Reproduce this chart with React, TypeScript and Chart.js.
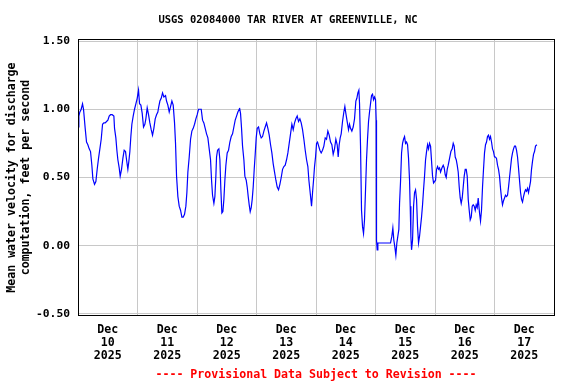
import { useEffect, useRef } from "react";
import { Chart, registerables } from "chart.js";

Chart.register(...registerables);

const TITLE = "USGS 02084000 TAR RIVER AT GREENVILLE, NC";
const Y_TITLE = ["Mean water velocity for discharge", "computation, feet per second"];
const FOOTER = "---- Provisional Data Subject to Revision ----";
const MONTH = "Dec";
const YEAR = "2025";
const DAYS = ["10", "11", "12", "13", "14", "15", "16", "17"];
const Y_TICKS = [-0.5, 0, 0.5, 1.0, 1.5];

// hours since Dec 10 2025 00:00
const hours = [
  0.0, 0.35, 0.75, 1.29, 1.83, 2.23, 2.9, 3.44, 3.98, 4.52, 5.05, 5.59, 6.0, 6.67, 7.21, 7.74, 8.28, 8.82, 9.36, 9.9,
  10.43, 10.97, 11.51, 12.05, 12.58, 13.12, 13.79, 14.47, 14.74, 15.27, 15.68, 16.08, 16.62, 17.02, 17.56, 18.1, 18.63,
  19.17, 19.58, 20.11, 20.52, 20.92, 21.32, 21.73, 22.26, 22.8, 23.34, 23.88, 24.42, 24.82, 25.36, 25.9, 26.43, 26.97,
  27.37, 27.91, 28.45, 28.99, 29.53, 30.06, 30.6, 31.14, 31.68, 32.21,
  32.49, 33.03, 33.56, 34.1, 34.64, 35.31, 35.71, 36.25, 36.79, 37.33, 37.87, 38.4, 38.94, 39.34, 39.75, 40.29, 40.82,
  41.36, 41.9, 42.44, 42.97, 43.51, 43.92, 44.32, 44.86, 45.4, 45.93, 46.47, 47.01, 47.55, 48.08, 48.62, 49.16, 49.7,
  50.24, 50.77, 51.31, 51.85, 52.39, 52.92, 53.46, 53.87, 54.27, 54.81, 55.21, 55.61, 55.88, 56.29, 56.82, 57.23, 57.63,
  58.03, 58.44, 58.84, 59.24, 59.65, 60.18, 60.72, 61.26, 61.8, 62.34, 62.87, 63.41, 63.95, 64.49, 65.03,
  65.16, 65.56, 65.97, 66.37, 66.91, 67.31, 67.85, 68.25, 68.66, 69.06, 69.46, 69.87, 70.27, 70.67, 71.08, 71.48, 71.88,
  72.29, 72.83, 73.36, 73.9, 74.44, 74.98, 75.51, 76.05, 76.59, 77.13, 77.67, 78.2, 78.74, 79.28, 79.82, 80.35, 80.89,
  81.43, 81.97, 82.51, 83.04, 83.58, 84.12, 84.66, 85.19, 85.73, 86.27, 86.81, 87.35, 87.88, 88.42, 88.96, 89.5, 90.03,
  90.57, 91.11, 91.65, 92.19, 92.72, 93.13, 93.53, 93.93, 94.2, 94.61, 95.01, 95.41, 95.82, 96.22, 96.62,
  97.56, 98.09, 98.63, 99.17, 99.71, 100.24, 100.78, 101.32, 101.86, 102.4, 102.93, 103.47, 104.01, 104.55, 104.95,
  105.35, 105.76, 106.16, 106.7, 107.24, 107.64, 108.04, 108.58, 109.12, 109.52, 109.93, 110.46, 111.0, 111.54, 112.08,
  112.48, 112.88, 113.29, 113.56, 113.96, 114.36, 114.77, 115.17, 115.57, 115.98, 116.38, 116.78, 117.19, 117.59,
  117.99, 118.4, 118.8, 119.2, 119.61, 120.01, 120.28, 120.41, 120.68, 120.95, 121.49, 126.06, 126.6, 127.0, 127.4,
  127.81, 128.21, 128.61, 129.02, 129.42,
  129.7, 130.1, 130.51, 130.91, 131.31, 131.72, 132.12, 132.52, 132.93, 133.33, 133.73, 134.0, 134.27, 134.54, 134.94,
  135.35, 135.75, 136.15, 136.56, 136.96, 137.36, 137.77, 138.17, 138.57, 138.98, 139.38, 139.78, 140.19, 140.59, 141.0,
  141.4, 141.8, 142.21, 142.61, 143.01, 143.42, 143.82, 144.22, 144.63, 145.03, 145.43, 145.84, 146.24, 146.78, 147.31,
  147.72, 148.12, 148.52, 148.93, 149.33, 149.87, 150.41, 150.94, 151.35, 151.75, 152.15, 152.56, 152.96, 153.36,
  153.77, 154.17, 154.57, 154.98, 155.38, 155.78, 156.19, 156.59, 156.99, 157.4, 157.8, 158.2, 158.61, 159.01, 159.41,
  159.82, 160.22, 160.62, 161.03, 161.43,
  161.96, 162.36, 162.76, 163.17, 163.57, 163.97, 164.38, 164.78, 165.18, 165.59, 165.99, 166.39, 166.8, 167.2, 167.6,
  168.01, 168.41, 168.81, 169.22, 169.62, 170.02, 170.43, 170.83, 171.23, 171.64, 172.04, 172.44, 172.85, 173.25,
  173.66, 174.06, 174.46, 174.87, 175.27, 175.67, 176.08, 176.48, 176.88, 177.29, 177.69, 178.09, 178.5, 178.9, 179.3,
  179.71, 180.11, 180.51, 180.92, 181.32, 181.72, 182.13, 182.53, 182.93, 183.34, 183.74, 184.14, 184.55, 185.08,
];

// mean water velocity, ft/s
const velocity = [
  0.87, 0.95, 0.98, 1.0, 1.04, 1.0, 0.86, 0.76, 0.74, 0.71, 0.69, 0.59, 0.49, 0.45, 0.47, 0.56, 0.64, 0.71, 0.78, 0.89,
  0.9, 0.9, 0.91, 0.92, 0.95, 0.96, 0.96, 0.95, 0.86, 0.79, 0.7, 0.63, 0.57, 0.51, 0.56, 0.64, 0.7,
  0.69, 0.63, 0.56, 0.62, 0.69, 0.8, 0.89, 0.95, 1.0, 1.04, 1.08, 1.14, 1.04, 1.03, 0.97, 0.87, 0.89,
  0.93, 1.01, 0.96, 0.9, 0.85, 0.81, 0.86, 0.93, 0.96, 0.98,
  1.01, 1.06, 1.08, 1.12, 1.09, 1.1, 1.06, 1.03, 0.98, 1.02, 1.06, 1.03, 0.9, 0.75, 0.51, 0.36, 0.29,
  0.26, 0.21, 0.21, 0.23, 0.29, 0.39, 0.54, 0.65, 0.78, 0.84, 0.86, 0.89, 0.93, 0.96, 1.0, 1.0, 1.0,
  0.92, 0.9, 0.86, 0.82, 0.79, 0.71, 0.63, 0.48, 0.37, 0.31, 0.36, 0.51, 0.65, 0.7, 0.71, 0.63, 0.41,
  0.24, 0.25, 0.34, 0.48, 0.59, 0.68, 0.7, 0.76, 0.8, 0.82, 0.87, 0.92, 0.95, 0.98, 1.0,
  1.01, 0.97, 0.86, 0.73, 0.63, 0.51, 0.48, 0.43, 0.36, 0.3, 0.25, 0.28, 0.34, 0.43, 0.56, 0.67, 0.79,
  0.86, 0.87, 0.82, 0.79, 0.8, 0.84, 0.87, 0.9, 0.86, 0.81, 0.74, 0.68, 0.6, 0.54, 0.48, 0.43, 0.41,
  0.45, 0.5, 0.56, 0.58, 0.59, 0.63, 0.68, 0.75, 0.82, 0.89, 0.85, 0.9, 0.93, 0.95, 0.91, 0.93, 0.9,
  0.85, 0.78, 0.7, 0.63, 0.58, 0.48, 0.41, 0.34, 0.29, 0.39, 0.48, 0.58, 0.65, 0.75, 0.76,
  0.7, 0.68, 0.7, 0.73, 0.79, 0.78, 0.84, 0.81, 0.76, 0.74, 0.67, 0.71, 0.78, 0.74, 0.65,
  0.74, 0.79, 0.82, 0.91, 0.98, 1.02, 0.97, 0.91, 0.85, 0.89, 0.86, 0.84, 0.87, 0.93, 1.06,
  1.08, 1.12, 1.14, 1.04, 0.73, 0.26, 0.14, 0.09, 0.19, 0.41, 0.63, 0.78, 0.91, 0.98,
  1.04, 1.1, 1.11, 1.07, 1.09, 1.07, 0.92, 0.04, -0.03, 0.02, 0.02, 0.02, 0.07, 0.13, 0.04,
  -0.01, -0.07, 0.02, 0.07, 0.12,
  0.31, 0.47, 0.68, 0.75, 0.78, 0.8, 0.75, 0.76, 0.74, 0.64, 0.48, 0.29, 0.07, -0.03, 0.04,
  0.29, 0.39, 0.41, 0.34, 0.14, 0.02, 0.07, 0.14, 0.21, 0.3, 0.41, 0.51, 0.63, 0.69, 0.74,
  0.71, 0.75, 0.73, 0.62, 0.51, 0.46, 0.47, 0.48, 0.56, 0.58, 0.56, 0.57, 0.54, 0.57, 0.59,
  0.57, 0.52, 0.5, 0.56, 0.59, 0.64, 0.69, 0.71, 0.75, 0.73, 0.65, 0.63, 0.59, 0.54,
  0.43, 0.35, 0.31, 0.35, 0.43, 0.51, 0.56, 0.56, 0.51, 0.34, 0.26, 0.19, 0.21, 0.29, 0.3,
  0.29, 0.26, 0.3, 0.28, 0.35,
  0.24, 0.18, 0.26, 0.43, 0.56, 0.68, 0.74, 0.76, 0.8, 0.81, 0.78, 0.8, 0.76, 0.71, 0.69,
  0.65, 0.65, 0.64, 0.59, 0.56, 0.51, 0.42, 0.35, 0.3, 0.33, 0.35, 0.37, 0.36, 0.37,
  0.43, 0.5, 0.57, 0.64, 0.68, 0.71, 0.73, 0.73, 0.7, 0.65, 0.57, 0.48, 0.39, 0.34, 0.32,
  0.36, 0.39, 0.41, 0.4, 0.42, 0.39, 0.43, 0.47, 0.56, 0.62, 0.67, 0.69, 0.73, 0.74,
];

const FONT = "'DejaVu Sans Mono', 'Liberation Mono', monospace";
const GRID = "#c8c8c8";

const framePlugin = {
  id: "frame",
  afterDraw(chart: any) {
    const { ctx, chartArea } = chart;
    const l = Math.floor(chartArea.left) + 0.5;
    const t = Math.floor(chartArea.top) + 0.5;
    const r = Math.floor(chartArea.right) + 0.5;
    const b = Math.floor(chartArea.bottom) + 0.5;
    ctx.save();
    ctx.strokeStyle = "#000000";
    ctx.lineWidth = 1;
    ctx.strokeRect(l, t, r - l, b - t);
    ctx.restore();
  },
};

export default function App() {
  const canvasRef = useRef<HTMLCanvasElement | null>(null);

  useEffect(() => {
    const canvas = canvasRef.current;
    if (!canvas) return;
    const points = hours.map((h, i) => ({ x: h, y: velocity[i] }));
    const chart = new Chart(canvas, {
      type: "line",
      data: {
        datasets: [
          {
            data: points,
            borderColor: "#0000ff",
            borderWidth: 1.2,
            pointRadius: 0,
            tension: 0,
            fill: false,
            yAxisID: "y",
          },
        ],
      },
      plugins: [framePlugin],
      options: {
        animation: false,
        responsive: false,
        devicePixelRatio: 1,
        layout: { padding: 0 },
        plugins: {
          legend: { display: false },
          tooltip: { enabled: false },
          title: {
            display: true,
            text: TITLE,
            color: "#000000",
            font: { family: FONT, size: 10.5, weight: "bold" },
            padding: { top: 14.2, bottom: 12.7 },
          },
        },
        scales: {
          x: {
            type: "linear",
            min: 0,
            max: 192,
            afterFit: (scale: any) => {
              scale.height = 68.3;
            },
            border: { display: false },
            grid: {
              drawTicks: false,
              lineWidth: 1,
              color: (ctx: any) => {
                const v = ctx.tick ? ctx.tick.value : 0;
                return v % 24 === 0 && v > 0 && v < 192 ? GRID : "rgba(0,0,0,0)";
              },
            },
            ticks: {
              stepSize: 12,
              autoSkip: false,
              maxRotation: 0,
              minRotation: 0,
              padding: 8,
              color: "#000000",
              font: { family: FONT, size: 11.6, weight: "bold", lineHeight: 1.12 },
              callback: (value: any) => {
                const v = Number(value);
                if (v % 24 !== 12) return "";
                const d = DAYS[(v - 12) / 24];
                return d ? [MONTH, d, YEAR] : "";
              },
            },
            title: {
              display: true,
              text: FOOTER,
              color: "#ff0000",
              font: { family: FONT, size: 11.6, weight: "bold" },
              padding: { top: 0, bottom: 2 },
            },
          },
          y: {
            type: "linear",
            position: "left",
            min: -0.5125,
            max: 1.511,
            afterFit: (scale: any) => {
              scale.width = 78;
            },
            afterBuildTicks: (scale: any) => {
              scale.ticks = Y_TICKS.map((v) => ({ value: v }));
            },
            border: { display: false },
            grid: { drawTicks: false, color: GRID, lineWidth: 1 },
            ticks: {
              padding: 8,
              color: "#000000",
              font: { family: FONT, size: 11.3, weight: "bold" },
              callback: (value: any) => Number(value).toFixed(2),
            },
            title: {
              display: true,
              text: Y_TITLE,
              color: "#000000",
              font: { family: FONT, size: 11.6, weight: "bold", lineHeight: 1.164 },
              padding: { top: 5.25, bottom: 0 },
            },
          },
          yRight: {
            type: "linear",
            position: "right",
            min: -0.5125,
            max: 1.511,
            afterFit: (scale: any) => {
              scale.width = 22;
            },
            border: { display: false },
            grid: { display: false, drawTicks: false },
            ticks: { display: false },
          },
        },
      },
    } as any);
    return () => chart.destroy();
  }, []);

  return (
    <div style={{ position: "absolute", left: 0, top: 0, width: 576, height: 384, background: "#ffffff" }}>
      <canvas ref={canvasRef} width={576} height={384} style={{ display: "block" }} />
    </div>
  );
}
